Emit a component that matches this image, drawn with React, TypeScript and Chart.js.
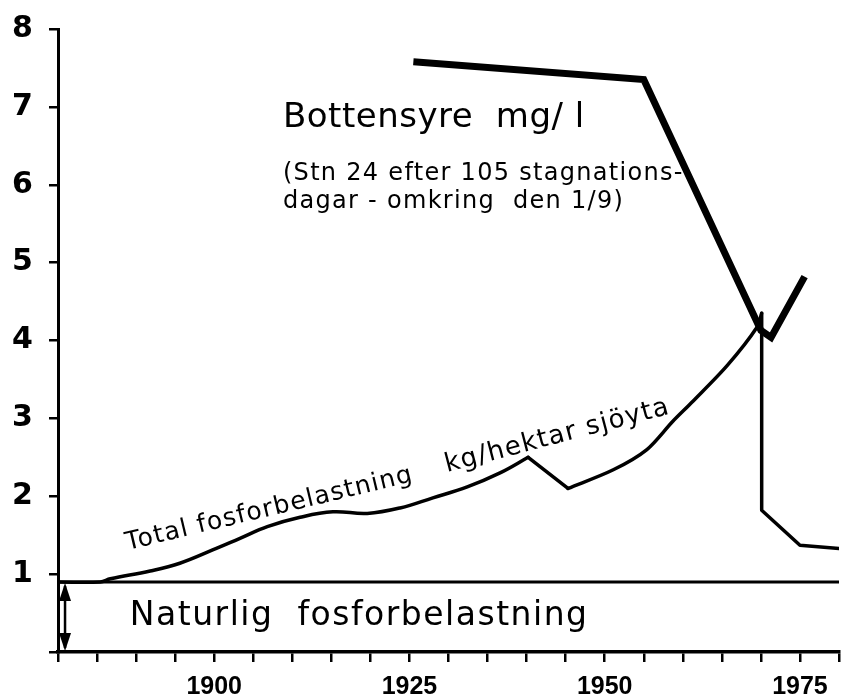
import React, { useEffect, useRef } from "react";
import { Chart, registerables } from "chart.js";

Chart.register(...registerables);

// ---- data ----
const BOTTENSYRE_YEARS = [1925.5, 1955, 1970, 1971.3, 1975.6];
const BOTTENSYRE_VALUES = [7.58, 7.35, 4.13, 4.04, 4.82];

const FOSFOR_YEARS = [
  1880, 1885.4, 1886.7, 1891.8, 1895.6, 1899.8, 1903.3, 1906.8, 1911.0, 1915.2,
  1919.6, 1923.8, 1928.0, 1932.4, 1936.6, 1940.2, 1945.3, 1951.1, 1955.4, 1958.7,
  1961.3, 1965.7, 1969.5, 1970.1, 1970.1, 1975.0, 1980,
];
const FOSFOR_VALUES = [
  0.9, 0.9, 0.94, 1.04, 1.14, 1.31, 1.46, 1.61, 1.73, 1.8,
  1.78, 1.85, 1.98, 2.12, 2.3, 2.5, 2.1, 2.34, 2.6, 2.96,
  3.22, 3.68, 4.17, 4.35, 1.82, 1.37, 1.33,
];
// pieces of the fosfor curve: [from index, to index, tension]
const FOSFOR_PIECES: [number, number, number][] = [
  [0, 15, 0.4],
  [15, 16, 0],
  [16, 23, 0.3],
  [23, 26, 0],
];

const NATURAL_LEVEL = 0.9;
const YEAR_MIN = 1880;
const YEAR_MAX = 1980;
const Y_MIN = 0;
const Y_MAX = 8;
const X_LABEL_YEARS = [1900, 1925, 1950, 1975];
const ARROW_YEAR = 1880.9;

const FONT = "'DejaVu Sans', sans-serif";

const App: React.FC = () => {
  const ref = useRef<HTMLCanvasElement | null>(null);

  useEffect(() => {
    document.body.style.margin = "0";
    const canvas = ref.current;
    if (!canvas) return;

    const pts = (ys: number[], vs: number[], a = 0, b = ys.length - 1) =>
      ys.slice(a, b + 1).map((x, i) => ({ x, y: vs[a + i] }));

    const fosforSets = FOSFOR_PIECES.map(([a, b, t]) => ({
      data: pts(FOSFOR_YEARS, FOSFOR_VALUES, a, b),
      borderColor: "#000",
      borderWidth: 3.5,
      tension: t,
      pointRadius: 0,
      borderJoinStyle: "round" as const,
      borderCapStyle: "round" as const,
    }));

    const annot = {
      id: "annot",
      afterDatasetsDraw(chart: any) {
        const { ctx } = chart;
        const xs = chart.scales.x;
        const ys = chart.scales.y;
        const px = (x: number) => xs.getPixelForValue(x);
        const py = (y: number) => ys.getPixelForValue(y);
        ctx.save();
        ctx.fillStyle = "#000";
        ctx.strokeStyle = "#000";
        ctx.textBaseline = "alphabetic";
        ctx.textAlign = "left";

        const text = (
          s: string,
          x: number,
          y: number,
          size: number,
          spacing = 0,
          angle = 0
        ) => {
          ctx.save();
          ctx.font = `${size}px ${FONT}`;
          (ctx as any).letterSpacing = `${spacing}px`;
          ctx.translate(px(x), py(y));
          ctx.rotate((angle * Math.PI) / 180);
          ctx.fillText(s, 0, 0);
          ctx.restore();
        };

        text("Bottensyre  mg/ l", 1908.8, 6.74, 34, 0.5);
        text("(Stn 24 efter 105 stagnations-", 1908.8, 6.06, 24, 1.3);
        text("dagar - omkring  den 1/9)", 1908.8, 5.7, 24, 1.3);
        text("Naturlig  fosforbelastning", 1889.2, 0.347, 33, 1.5);
        text("Total fosforbelastning", 1888.9, 1.31, 25, 1.2, -13.5);
        text("kg/hektar sjöyta", 1929.8, 2.31, 26, 1.3, -14.7);

        // double arrow for natural loading
        const ax = px(ARROW_YEAR);
        const yTop = py(NATURAL_LEVEL);
        const yBot = py(0);
        ctx.lineWidth = 2.5;
        ctx.beginPath();
        ctx.moveTo(ax, yTop + 4);
        ctx.lineTo(ax, yBot - 4);
        ctx.stroke();
        ctx.beginPath();
        ctx.moveTo(ax, yTop + 1);
        ctx.lineTo(ax - 6, yTop + 19);
        ctx.lineTo(ax + 6, yTop + 19);
        ctx.closePath();
        ctx.fill();
        ctx.beginPath();
        ctx.moveTo(ax, yBot - 1);
        ctx.lineTo(ax - 6, yBot - 19);
        ctx.lineTo(ax + 6, yBot - 19);
        ctx.closePath();
        ctx.fill();
        ctx.restore();
      },
    };

    const chart = new Chart(canvas, {
      type: "line",
      data: {
        datasets: [
          {
            data: [
              { x: YEAR_MIN, y: NATURAL_LEVEL },
              { x: YEAR_MAX, y: NATURAL_LEVEL },
            ],
            borderColor: "#000",
            borderWidth: 3,
            pointRadius: 0,
            tension: 0,
          },
          ...fosforSets,
          {
            data: pts(BOTTENSYRE_YEARS, BOTTENSYRE_VALUES),
            borderColor: "#000",
            borderWidth: 7,
            pointRadius: 0,
            tension: 0,
            borderJoinStyle: "miter",
            borderCapStyle: "butt",
          },
        ],
      },
      options: {
        responsive: false,
        animation: false,
        devicePixelRatio: 1,
        layout: { padding: { left: 12, right: 6, top: 29, bottom: 0 } },
        plugins: { legend: { display: false }, tooltip: { enabled: false } },
        scales: {
          x: {
            type: "linear",
            min: YEAR_MIN,
            max: YEAR_MAX,
            afterFit: (s: any) => {
              s.height = 48;
              s.paddingRight = 0;
              s.paddingLeft = 0;
            },
            border: { display: true, color: "#000", width: 3.5 },
            grid: {
              drawOnChartArea: false,
              drawTicks: true,
              tickLength: 10,
              color: "#000",
              lineWidth: 2.5,
            },
            ticks: {
              stepSize: 5,
              autoSkip: false,
              maxRotation: 0,
              padding: 10,
              color: "#000",
              font: { family: "'Liberation Sans', sans-serif", size: 25, weight: "bold" },
              callback: (v: any) => (X_LABEL_YEARS.includes(Number(v)) ? String(v) : ""),
            },
          },
          y: {
            type: "linear",
            min: Y_MIN,
            max: Y_MAX,
            afterFit: (s: any) => {
              s.width = 46;
              s.paddingTop = 0;
              s.paddingBottom = 0;
            },
            border: { display: true, color: "#000", width: 3 },
            grid: {
              drawOnChartArea: false,
              drawTicks: true,
              tickLength: 9,
              color: "#000",
              lineWidth: 2.5,
            },
            ticks: {
              stepSize: 1,
              crossAlign: "far",
              padding: 8,
              color: "#000",
              font: { family: FONT, size: 30, weight: "bold" },
              callback: (v: any) => (Number(v) === 0 ? "" : String(v)),
            },
          },
        },
      },
      plugins: [annot],
    });

    return () => chart.destroy();
  }, []);

  return (
    <canvas
      ref={ref}
      width={845}
      height={700}
      style={{ display: "block", width: 845, height: 700 }}
    />
  );
};

export default App;
